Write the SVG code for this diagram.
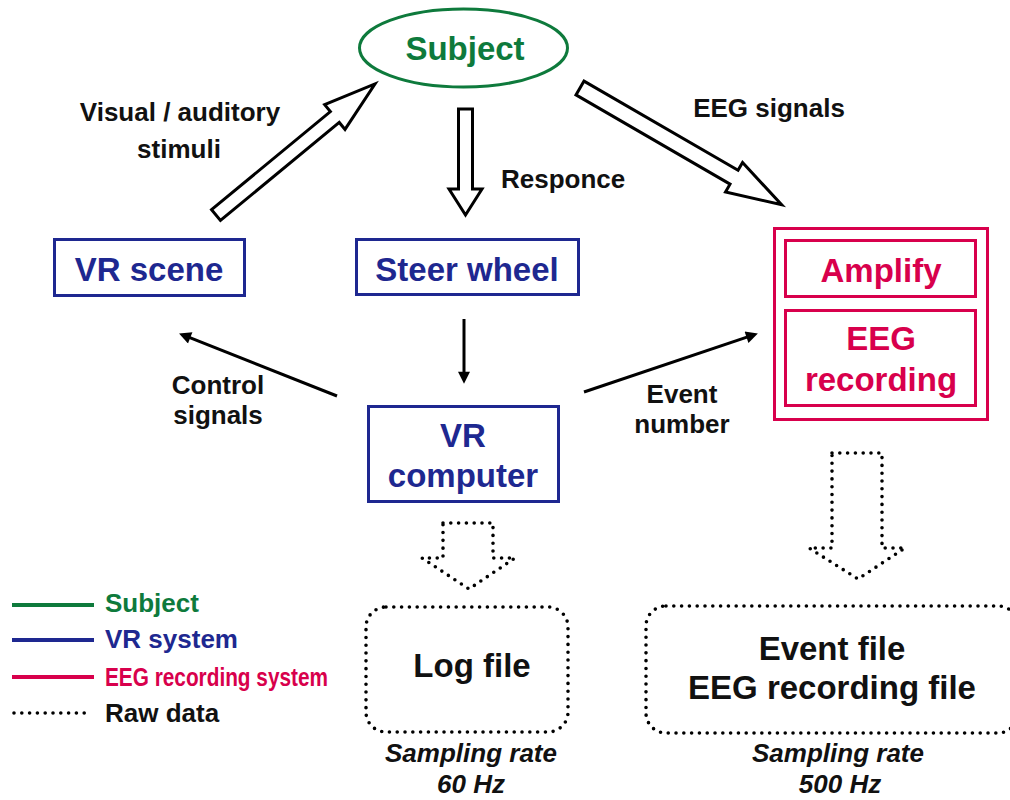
<svg xmlns="http://www.w3.org/2000/svg" width="1010" height="800" viewBox="0 0 1010 800">
<defs>
<style>
text{font-family:"Liberation Sans",Arial,sans-serif;font-weight:bold;}
.lbl{font-size:26px;fill:#111;text-anchor:middle;}
.big{font-size:33px;text-anchor:middle;}
.it{font-size:26px;font-style:italic;fill:#111;text-anchor:middle;}
.g{fill:#0e7a3c;} .b{fill:#1e2890;} .r{fill:#d8004c;} .k{fill:#111;}
.bx{fill:none;stroke-width:3;}
.sb{stroke:#1e2890;} .sr{stroke:#d8004c;} .sg{stroke:#0e7a3c;}
.hollow{fill:#fff;stroke:#000;stroke-width:3;stroke-linejoin:miter;}
.dot{fill:none;stroke:#000;stroke-width:3.6;stroke-linecap:round;stroke-dasharray:0 7.8;}
.thin{stroke:#000;stroke-width:3;fill:none;}
</style>
<marker id="ah" viewBox="0 0 10 10" refX="4.3" refY="5" markerWidth="14" markerHeight="12" markerUnits="userSpaceOnUse" orient="auto"><path d="M0,0 L10,5 L0,10 z" fill="#000"/></marker>
</defs>
<rect width="1010" height="800" fill="#fff"/>

<g id="connectors">
<polygon class="hollow" transform="translate(216,215) rotate(-39.5)" points="0,-7 154,-7 154,-16 206,0 154,16 154,7 0,7"/>
<polygon class="hollow" points="458.5,109 472.5,109 472.5,189 482,189 465.5,215 449,189 458.5,189"/>
<polygon class="hollow" transform="translate(580,88) rotate(30.08)" points="0,-8 178,-8 178,-17 233,0 178,17 178,8 0,8"/>
<line class="thin" x1="464" y1="319" x2="464" y2="377" marker-end="url(#ah)"/>
<line class="thin" x1="337" y1="396" x2="185.4" y2="335.9" marker-end="url(#ah)"/>
<line class="thin" x1="584" y1="392" x2="751.4" y2="335.6" marker-end="url(#ah)"/>
<path class="dot" d="M443,523 H493 V558 H515 L469,589 L422,558 H443 Z"/>
<path class="dot" d="M832,453 H882 V548 H905 L858,579 L809,548 H832 Z"/>
</g>

<g id="labels">
<text class="lbl" x="180" y="121">Visual / auditory</text>
<text class="lbl" x="179" y="158">stimuli</text>
<text class="lbl" x="501" y="188" style="text-anchor:start">Responce</text>
<text class="lbl" x="769" y="117">EEG signals</text>
<text class="lbl" x="218" y="394">Control</text>
<text class="lbl" x="218" y="424">signals</text>
<text class="lbl" x="682" y="403">Event</text>
<text class="lbl" x="682" y="433">number</text>
</g>

<g id="subject">
<ellipse class="bx sg" cx="463.5" cy="48" rx="104" ry="39"/>
<text class="big g" x="465" y="60">Subject</text>
</g>

<g id="vr-scene">
<rect class="bx sb" x="54.5" y="239.5" width="190" height="56"/>
<text class="big b" x="149" y="281">VR scene</text>
</g>

<g id="steer-wheel">
<rect class="bx sb" x="356.5" y="239.5" width="222" height="55"/>
<text class="big b" x="467" y="281">Steer wheel</text>
</g>

<g id="vr-computer">
<rect class="bx sb" x="368.5" y="406.5" width="190" height="95"/>
<text class="big b" x="463" y="447">VR</text>
<text class="big b" x="463" y="487">computer</text>
</g>

<g id="eeg-system">
<rect class="bx sr" x="774.5" y="228.5" width="213" height="191"/>
<g id="amplify">
<rect class="bx sr" x="785.5" y="240.5" width="190" height="56"/>
<text class="big r" x="881" y="282">Amplify</text>
</g>
<g id="eeg-recording">
<rect class="bx sr" x="785.5" y="310.5" width="190" height="95"/>
<text class="big r" x="881" y="350">EEG</text>
<text class="big r" x="881" y="391">recording</text>
</g>
</g>

<g id="log-file">
<rect class="dot" x="366" y="607" width="202" height="125" rx="20"/>
<text class="big k" x="472" y="677">Log file</text>
<text class="it" x="471" y="762">Sampling rate</text>
<text class="it" x="471" y="793">60 Hz</text>
</g>

<g id="event-file">
<rect class="dot" x="646" y="606" width="372" height="127" rx="20"/>
<text class="big k" x="832" y="660">Event file</text>
<text class="big k" x="832" y="699">EEG recording file</text>
<text class="it" x="838" y="762">Sampling rate</text>
<text class="it" x="840" y="793">500 Hz</text>
</g>

<g id="legend">
<line x1="12" y1="605" x2="94" y2="605" stroke="#0e7a3c" stroke-width="4"/>
<line x1="12" y1="640" x2="94" y2="640" stroke="#1e2890" stroke-width="4"/>
<line x1="12" y1="677" x2="94" y2="677" stroke="#d8004c" stroke-width="4"/>
<line class="dot" x1="14" y1="713" x2="92" y2="713"/>
<text class="g" x="105" y="612" font-size="26">Subject</text>
<text class="b" x="105" y="648" font-size="26">VR system</text>
<text class="r" x="105" y="686" font-size="26" textLength="223" lengthAdjust="spacingAndGlyphs">EEG recording system</text>
<text class="k" x="105" y="722" font-size="26">Raw data</text>
</g>
</svg>
